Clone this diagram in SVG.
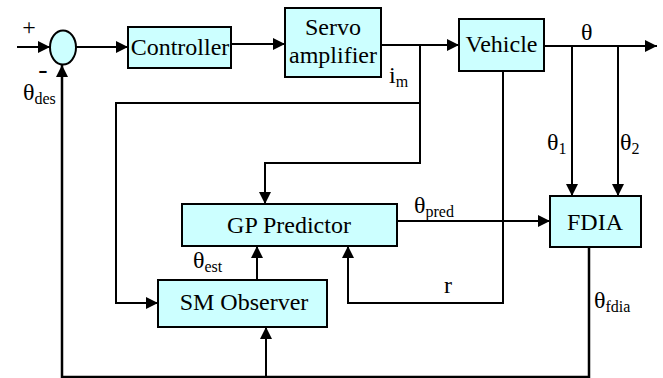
<svg xmlns="http://www.w3.org/2000/svg" width="663" height="378" viewBox="0 0 663 378">
<style>
.box{fill:#CCFFFF;stroke:#000;stroke-width:2}
.ln{fill:none;stroke:#000;stroke-width:2}
.t{font-family:'Liberation Serif','Times New Roman',serif;font-size:24px;fill:#000}
.c{text-anchor:middle}
.sub{font-size:16px}
</style>
<defs>
<marker id="ah" markerUnits="userSpaceOnUse" markerWidth="13" markerHeight="13" refX="12" refY="6" orient="auto">
<path d="M0,0 L12,6 L0,12 z" fill="#000"/>
</marker>
</defs>
<g id="connectors">
<path class="ln" d="M17,47 H50" marker-end="url(#ah)"/>
<path class="ln" d="M76,47 H128" marker-end="url(#ah)"/>
<path class="ln" d="M231,44 H285" marker-end="url(#ah)"/>
<path class="ln" d="M381,45 H459" marker-end="url(#ah)"/>
<path class="ln" d="M544,46 H657" marker-end="url(#ah)"/>
<path class="ln" d="M420,45 V163 H265 V204" marker-end="url(#ah)"/>
<path class="ln" d="M420,103 H116 V303 H158" marker-end="url(#ah)"/>
<path class="ln" d="M572,46 V196" marker-end="url(#ah)"/>
<path class="ln" d="M618,46 V196" marker-end="url(#ah)"/>
<path class="ln" d="M397,221 H550" marker-end="url(#ah)"/>
<path class="ln" d="M503,71 V303 H348 V246" marker-end="url(#ah)"/>
<path class="ln" d="M257,280 V246" marker-end="url(#ah)"/>
<path class="ln" d="M589,247 V377 H62 V65" marker-end="url(#ah)" style="stroke-width:2.5"/>
<path class="ln" d="M266,377 V327" marker-end="url(#ah)"/>
</g>
<g id="sum">
<ellipse class="box" cx="63" cy="47.5" rx="13" ry="17"/>
<text x="29" y="35" class="t c">+</text>
<text x="43" y="78" class="t c" style="font-size:28px">-</text>
</g>
<g id="controller">
<rect class="box" x="128" y="27" width="103" height="41"/>
<text x="180" y="55" class="t c">Controller</text>
</g>
<g id="servo">
<rect class="box" x="285" y="8" width="96" height="69"/>
<text x="333" y="35" class="t c">Servo</text>
<text x="333" y="63" class="t c">amplifier</text>
</g>
<g id="vehicle">
<rect class="box" x="459" y="19" width="85" height="52"/>
<text x="501.5" y="52" class="t c">Vehicle</text>
</g>
<g id="gp">
<rect class="box" x="182" y="204" width="215" height="42"/>
<text x="289" y="233" class="t c">GP Predictor</text>
</g>
<g id="fdia">
<rect class="box" x="550" y="196" width="91" height="51"/>
<text x="595" y="230" class="t c">FDIA</text>
</g>
<g id="sm">
<rect class="box" x="158" y="280" width="169" height="47"/>
<text x="244" y="310" class="t c">SM Observer</text>
</g>
<g id="labels">
<text x="23" y="100" class="t">θ<tspan class="sub" dy="4">des</tspan></text>
<text x="581" y="40" class="t">θ</text>
<text x="389" y="83" class="t">i<tspan class="sub" dy="4">m</tspan></text>
<text x="547" y="150" class="t">θ<tspan class="sub" dy="4">1</tspan></text>
<text x="620" y="150" class="t">θ<tspan class="sub" dy="4">2</tspan></text>
<text x="414" y="213" class="t">θ<tspan class="sub" dy="4">pred</tspan></text>
<text x="193" y="268" class="t">θ<tspan class="sub" dy="4">est</tspan></text>
<text x="448" y="293" class="t c">r</text>
<text x="594" y="308" class="t">θ<tspan class="sub" dy="4">fdia</tspan></text>
</g>
</svg>
